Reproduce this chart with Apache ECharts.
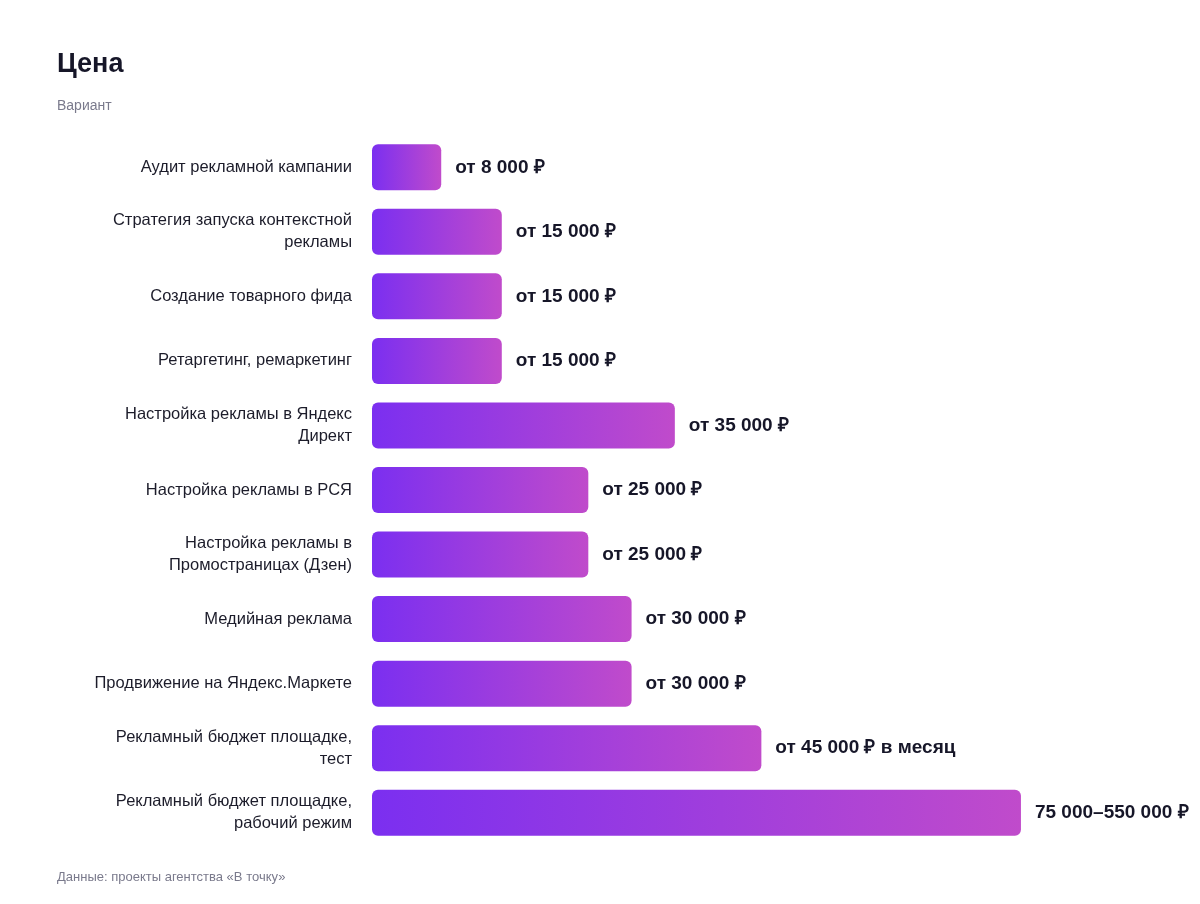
<!DOCTYPE html>
<html><head><meta charset="utf-8">
<script src="https://cdn.jsdelivr.net/npm/echarts@6/dist/echarts.min.js"></script>
<style>html,body{margin:0;padding:0;background:#fff}#c{width:1200px;height:904px}</style>
</head><body><div id="c"></div>
<script>
const categories = [
  "Аудит рекламной кампании",
  "Стратегия запуска контекстной\nрекламы",
  "Создание товарного фида",
  "Ретаргетинг, ремаркетинг",
  "Настройка рекламы в Яндекс\nДирект",
  "Настройка рекламы в РСЯ",
  "Настройка рекламы в\nПромостраницах (Дзен)",
  "Медийная реклама",
  "Продвижение на Яндекс.Маркете",
  "Рекламный бюджет площадке,\nтест",
  "Рекламный бюджет площадке,\nрабочий режим"
];
const values = [8000, 15000, 15000, 15000, 35000, 25000, 25000, 30000, 30000, 45000, 75000];
const valueLabels = ["от 8 000 ₽","от 15 000 ₽","от 15 000 ₽","от 15 000 ₽","от 35 000 ₽","от 25 000 ₽","от 25 000 ₽","от 30 000 ₽","от 30 000 ₽","от 45 000 ₽ в месяц","75 000–550 000 ₽"];

const chart = echarts.init(document.getElementById('c'));
const font = "Helvetica, Arial, 'Liberation Sans', sans-serif";
chart.setOption({
  animation: false,
  textStyle: {fontFamily: font},
  title: [
    {text: "Цена", left: 52, top: 46, textStyle: {fontSize: 27, fontWeight: 'bold', color: '#161628', fontFamily: font}},
    {text: "Вариант", left: 52, top: 94, textStyle: {fontSize: 14, fontWeight: 'normal', color: '#7a7a8c', fontFamily: font}},
    {text: "Данные: проекты агентства «В точку»", left: 52, top: 866, textStyle: {fontSize: 13, fontWeight: 'normal', color: '#7a7a8c', fontFamily: font}}
  ],
  grid: {left: 372, right: 6, top: 135, bottom: 59, containLabel: false},
  xAxis: {type: 'value', min: 0, max: 95000, show: false},
  yAxis: {
    type: 'category', inverse: true, data: categories,
    axisLine: {show: false}, axisTick: {show: false},
    axisLabel: {margin: 20, fontSize: 16.5, color: '#1c1c2a', lineHeight: 22, align: 'right', fontFamily: font}
  },
  series: [{
    type: 'bar', data: values, barWidth: 46,
    itemStyle: {
      borderRadius: 6,
      color: new echarts.graphic.LinearGradient(0, 0, 1, 0, [
        {offset: 0, color: '#7B2FF0'}, {offset: 1, color: '#C04BCB'}
      ])
    },
    label: {
      show: true, position: 'right', distance: 14,
      formatter: p => valueLabels[p.dataIndex],
      fontSize: 19, fontWeight: 'bold', color: '#161628', fontFamily: font
    }
  }]
});
</script></body></html>
